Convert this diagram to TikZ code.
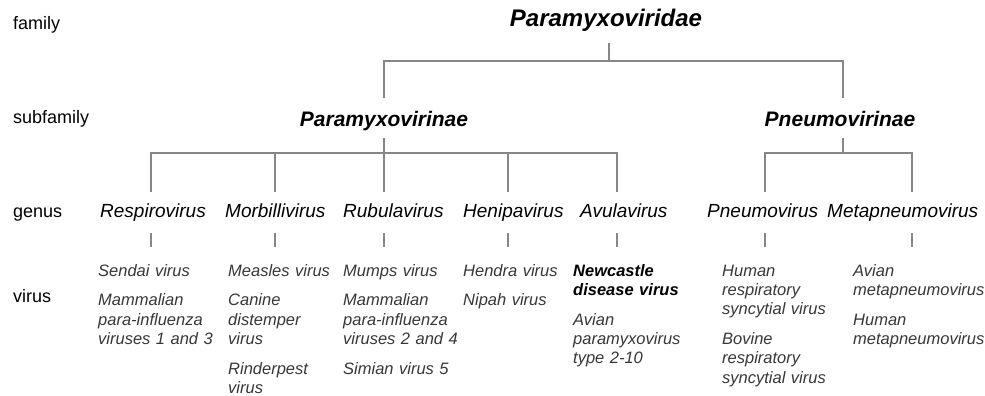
\documentclass[tikz,border=0pt]{standalone}
\usepackage{fontspec}
\setmainfont{Liberation Sans}
\definecolor{linegray}{RGB}{135,135,135}
\definecolor{virusgray}{RGB}{55,55,55}
\begin{document}
\begin{tikzpicture}[x=1pt,y=-1pt,
  tree/.style={draw=linegray,line width=1.6pt},
  rank/.style={anchor=base west,inner sep=0,font=\fontsize{18}{20}\selectfont},
  famname/.style={anchor=base,inner sep=0,font=\fontsize{24}{28}\selectfont\bfseries\itshape},
  subname/.style={anchor=base,inner sep=0,font=\fontsize{21}{25}\selectfont\bfseries\itshape},
  genusname/.style={anchor=base west,inner sep=0,font=\fontsize{19}{23}\selectfont\itshape},
  virusname/.style={anchor=base west,inner sep=0,text width=130pt,align=left,text=virusgray,font=\fontsize{16.5}{19.3}\selectfont\itshape},
]
\useasboundingbox (0,0) rectangle (985,396);

% rank labels
\node[rank] (lfam) at (13,30) {family};
\node[rank] (lsub) at (13,123) {subfamily};
\node[rank] (lgen) at (13,217) {genus};
\node[rank] (lvir) at (13,302) {virus};

% family and subfamilies
\node[famname] (fam) at (606,27) {Paramyxoviridae};
\node[subname] (subA) at (384,126) {Paramyxovirinae};
\node[subname] (subB) at (840,126) {Pneumovirinae};

% genera
\node[genusname] (g1) at (100,217) {Respirovirus};
\node[genusname] (g2) at (225,217) {Morbillivirus};
\node[genusname] (g3) at (343,217) {Rubulavirus};
\node[genusname] (g4) at (463,217) {Henipavirus};
\node[genusname] (g5) at (580,217) {Avulavirus};
\node[genusname] (g6) at (707,217) {Pneumovirus};
\node[genusname] (g7) at (827,217) {Metapneumovirus};

% viruses
\node[virusname] (v1) at (98,276) {Sendai virus\\[10.5pt]Mammalian\\para-influenza\\viruses 1 and 3};
\node[virusname] (v2) at (228,276) {Measles virus\\[10.5pt]Canine\\distemper\\virus\\[10.5pt]Rinderpest\\virus};
\node[virusname] (v3) at (343,276) {Mumps virus\\[10.5pt]Mammalian\\para-influenza\\viruses 2 and 4\\[10.5pt]Simian virus 5};
\node[virusname] (v4) at (463,276) {Hendra virus\\[10.5pt]Nipah virus};
\node[virusname] (v5) at (573,276) {\textcolor{black}{\bfseries Newcastle}\\\textcolor{black}{\bfseries disease virus}\\[10.5pt]Avian\\paramyxovirus\\type 2-10};
\node[virusname] (v6) at (722,276) {Human\\respiratory\\syncytial virus\\[10.5pt]Bovine\\respiratory\\syncytial virus};
\node[virusname] (v7) at (853,276) {Avian\\metapneumovirus\\[10.5pt]Human\\metapneumovirus};

% junction coordinates
\coordinate (famtop) at (609,43);
\coordinate (famjoin) at (609,61);
\coordinate (subAtop) at (384,98);
\coordinate (subBtop) at (843,98);
\coordinate (subAbot) at (384,138);
\coordinate (subBbot) at (843,138);
\coordinate (subAjoin) at (384,153);
\coordinate (subBjoin) at (843,153);
\coordinate (g1top) at (151,192);
\coordinate (g2top) at (275,192);
\coordinate (g3top) at (384,192);
\coordinate (g4top) at (508,192);
\coordinate (g5top) at (617,192);
\coordinate (g6top) at (765,192);
\coordinate (g7top) at (912,192);
\foreach \i/\x in {1/151,2/275,3/384,4/508,5/617,6/765,7/912}{
  \coordinate (t\i a) at (\x,233);
  \coordinate (t\i b) at (\x,247);
}

% tree lines
\draw[tree] (famtop) -- (famjoin);
\draw[tree] (subAtop) |- (famjoin) -| (subBtop);
\draw[tree] (subAbot) -- (g3top);
\draw[tree] (g1top) |- (subAjoin) -| (g5top);
\draw[tree] (g2top) -- (g2top |- subAjoin);
\draw[tree] (g4top) -- (g4top |- subAjoin);
\draw[tree] (subBbot) -- (subBjoin);
\draw[tree] (g6top) |- (subBjoin) -| (g7top);
\foreach \i in {1,...,7}{
  \draw[tree] (t\i a) -- (t\i b);
}
\end{tikzpicture}
\end{document}
